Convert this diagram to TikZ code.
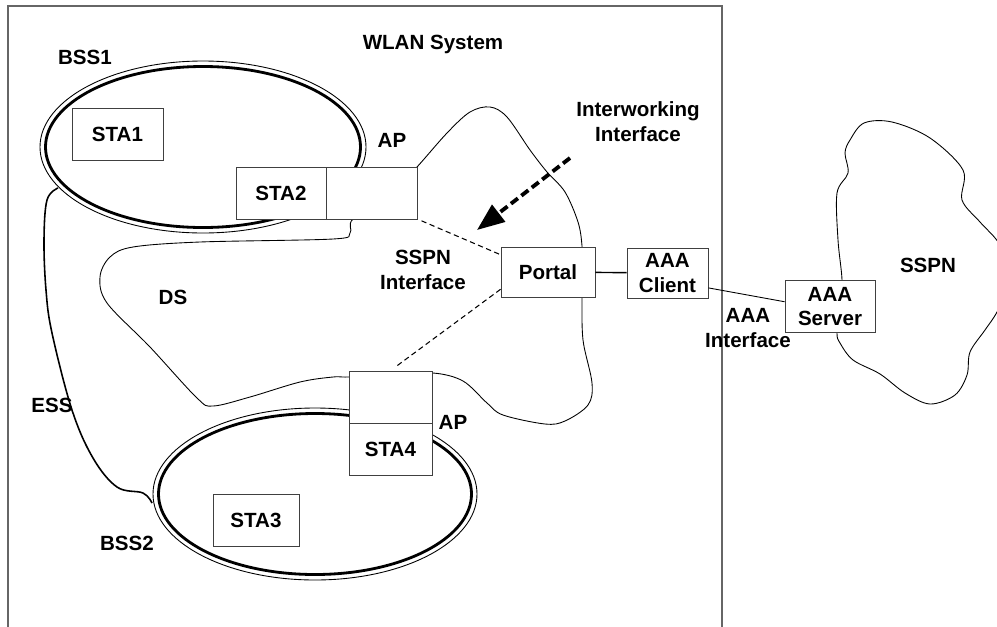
\documentclass[tikz,border=0pt]{standalone}
\usepackage{fontspec}
\setmainfont{Liberation Sans}
\usetikzlibrary{arrows.meta,positioning}
\tikzset{
  stabox/.style={
    rectangle, draw=black!75, fill=white, line width=0.5pt,
    minimum width=#1, minimum height=1.04cm, inner sep=1pt,
    font=\bfseries\fontsize{11.7}{14.2}\selectfont, align=center
  },
  stabox/.default=1.8cm,
  lbl/.style={
    font=\bfseries\fontsize{11.7}{14.2}\selectfont, align=center, inner sep=1pt
  },
  bssout/.style={line width=0.5pt},
  bssin/.style={line width=1.6pt},
  dsline/.style={line width=0.5pt},
  essline/.style={line width=0.9pt},
  ifline/.style={dash pattern=on 3pt off 2pt, line width=0.6pt},
  iwarrow/.style={
    -{Triangle[length=0.55cm, width=0.42cm]}, line width=2.2pt,
    dash pattern=on 5pt off 2.5pt
  },
}

\begin{document}
\begin{tikzpicture}[x=0.02cm, y=-0.02cm]
  \useasboundingbox (0,0) rectangle (997,626);
  \clip (0,0) rectangle (997,626);
  \draw[black!60, line width=0.6pt] (8,640) -- (8,6) -- (722,6) -- (722,640);
  \draw[bssout] (203,147) ellipse [x radius=163, y radius=86];
  \draw[bssin] (203,147) ellipse [x radius=157.5, y radius=80.5];
  \draw[bssout] (315,494) ellipse [x radius=162, y radius=86];
  \draw[bssin] (315,494) ellipse [x radius=156.5, y radius=80.5];
  \draw[essline] plot[smooth, tension=0.6] coordinates {(58,188) (47,200) (44,240)
    (46,290) (52,333) (72,410) (93,458) (117,487) (143,493) (152,503)};
  \draw[dsline] plot[smooth cycle, tension=0.55] coordinates {(417,167) (447,133)
    (470,112) (490,107) (507,117) (530,150) (547,172) (565,192) (578,222) (582,246)
    (582,272) (582,297) (583,340) (592,383) (588,405) (565,421) (545,424) (503,415)
    (487,403) (463,381) (433,373) (390,375) (348,377) (333,377) (300,382) (250,397)
    (213,406) (197,398) (150,347) (107,303) (100,277) (110,257) (133,247) (200,242)
    (333,239) (350,233) (353,219) (390,195)};
  \draw[dsline] plot[smooth cycle, tension=0.55] coordinates {(842,280) (838,240)
    (837,193) (848,173) (845,153) (850,140) (864,123) (892,122) (930,138) (963,170)
    (962,200) (980,222) (1000,245) (1012,280) (997,312) (985,330) (970,352) (967,375)
    (955,395) (930,404) (905,393) (880,374) (853,360) (840,343) (837,333) (840,306)};
  \node[stabox=1.82cm] (sta1) at (117.5,134.5) {STA1};
  \node[stabox] (sta2) at (281,193) {STA2};
  \node[stabox=1.82cm, right=0pt of sta2] (ap1) {};
  \node[stabox=1.66cm] (ap2) at (390.5,397) {};
  \node[stabox=1.66cm, below=0pt of ap2] (sta4) {STA4};
  \node[stabox=1.72cm] (sta3) at (256,520.5) {STA3};
  \node[stabox=1.88cm, minimum height=1.0cm] (portal) at (548,272) {Portal};
  \node[stabox=1.62cm, minimum height=1.0cm] (aaac) at (667.5,273) {AAA\\Client};
  \node[stabox=1.8cm] (aaas) at (830,306.5) {AAA\\Server};
  \draw[line width=0.8pt] (portal) -- (aaac);
  \draw[line width=0.5pt] (aaac.-20) -- (aaas.174);
  \draw[ifline, shorten <=2pt] (ap1.south east) -- (portal.160);
  \draw[ifline, shorten >=3pt] (portal.200) -- (ap2.north);
  \coordinate (iwtail) at (570,158);
  \coordinate (iwtip) at (477,230);
  \draw[iwarrow] (iwtail) -- (iwtip);
  \node[lbl] (wlan) at (433,44) {WLAN System};
  \node[lbl] (bss1) at (85,57) {BSS1};
  \node[lbl] (aplbla) at (392,140) {AP};
  \node[lbl] (iwif) at (638,122) {Interworking\\Interface};
  \node[lbl] (sspnif) at (423,270) {SSPN\\Interface};
  \node[lbl] (ds) at (173,297) {DS};
  \node[lbl] (aaaif) at (748,328) {AAA\\Interface};
  \node[lbl] (sspn) at (928,265) {SSPN};
  \node[lbl] (ess) at (52,405) {ESS};
  \node[lbl] (aplblb) at (453,422) {AP};
  \node[lbl] (bss2) at (127,543) {BSS2};
\end{tikzpicture}
\end{document}
